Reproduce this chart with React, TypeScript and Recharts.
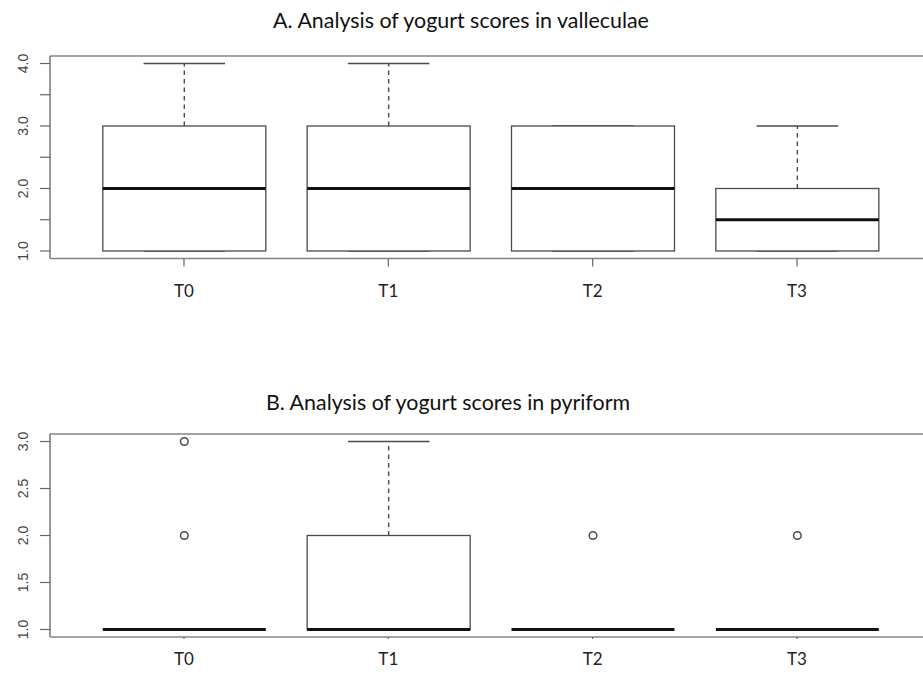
import React from "react";
import { ComposedChart, Bar, XAxis, YAxis, ReferenceLine } from "recharts";

const categories = ["T0", "T1", "T2", "T3"];

// A. valleculae
const vallMin = [1, 1, 1, 1];
const vallQ1 = [1, 1, 1, 1];
const vallMedian = [2, 2, 2, 1.5];
const vallQ3 = [3, 3, 3, 2];
const vallMax = [4, 4, 3, 3];
const vallOutliers: number[][] = [[], [], [], []];
const vallTicks = [1, 1.5, 2, 2.5, 3, 3.5, 4];

// B. pyriform
const pyrMin = [1, 1, 1, 1];
const pyrQ1 = [1, 1, 1, 1];
const pyrMedian = [1, 1, 1, 1];
const pyrQ3 = [1, 2, 1, 1];
const pyrMax = [1, 3, 1, 1];
const pyrOutliers: number[][] = [[2, 3], [], [2], [2]];
const pyrTicks = [1, 1.5, 2, 2.5, 3];

const LINE = "#4a4a4a";
const FRAME = "#858585";

function buildRows(min: number[], q1: number[], med: number[], q3: number[], max: number[], out: number[][]) {
    return categories.map((name, i) => {
        const all = [min[i], max[i], ...out[i]];
        return {
            name,
            min: min[i],
            q1: q1[i],
            median: med[i],
            q3: q3[i],
            max: max[i],
            outliers: out[i],
            range: [Math.min(...all), Math.max(...all)],
        };
    });
}

function BoxShape(props: any) {
    const { x, y, width, height, payload } = props;
    const [lo, hi] = payload.range;
    const top = Math.min(y, y + height);
    const bottom = Math.max(y, y + height);
    const py = (v: number) => bottom - ((v - lo) / (hi - lo)) * (bottom - top);
    const cx = x + width / 2;
    const cap = width / 4;
    return (
        <g>
            <line x1={cx} x2={cx} y1={py(payload.q3)} y2={py(payload.max)} stroke={LINE} strokeWidth={1.4} strokeDasharray="4.5 4" />
            <line x1={cx} x2={cx} y1={py(payload.q1)} y2={py(payload.min)} stroke={LINE} strokeWidth={1.4} strokeDasharray="4.5 4" />
            <line x1={cx - cap} x2={cx + cap} y1={py(payload.max)} y2={py(payload.max)} stroke={LINE} strokeWidth={1.4} />
            <line x1={cx - cap} x2={cx + cap} y1={py(payload.min)} y2={py(payload.min)} stroke={LINE} strokeWidth={1.4} />
            <rect x={x} y={py(payload.q3)} width={width} height={py(payload.q1) - py(payload.q3)}
                fill="#fff" stroke={LINE} strokeWidth={1.3} />
            <line x1={x} x2={x + width} y1={py(payload.median)} y2={py(payload.median)} stroke="#111" strokeWidth={3.2} />
            {payload.outliers.map((v: number, i: number) => (
                <circle key={i} cx={cx} cy={py(v)} r={3.8} fill="none" stroke={LINE} strokeWidth={1.5} />
            ))}
        </g>
    );
}

function YTick(props: any) {
    const { x, y, payload, labelAll } = props;
    const v = payload.value;
    const label = labelAll || Number.isInteger(v) ? v.toFixed(1) : "";
    const tx = x - 17;
    return (
        <text x={tx} y={y} transform={`rotate(-90, ${tx}, ${y})`} textAnchor="middle" dominantBaseline="central"
            fill="#444" fontSize={14} fontFamily="Liberation Sans, Arial, sans-serif">
            {label}
        </text>
    );
}

function XTick(props: any) {
    const { x, y, payload, dy } = props;
    return (
        <text x={x} y={y} dy={dy} textAnchor="middle" fill="#222" fontSize={17} fontFamily="Lato, sans-serif">
            {payload.value}
        </text>
    );
}

interface PanelProps {
    rows: any[];
    ticks: number[];
    top: number;
    height: number;
    marginTop: number;
    marginBottom: number;
    tickSize: number;
    labelDy: number;
    labelAll: boolean;
}

function BoxPanel({ rows, ticks, top, height, marginTop, marginBottom, tickSize, labelDy, labelAll }: PanelProps) {
    const lo = Math.min(...rows.map(r => r.range[0]));
    const hi = Math.max(...rows.map(r => r.range[1]));
    const pad = (hi - lo) * 0.04;
    return (
        <div style={{ position: "absolute", left: 0, top }}>
            <ComposedChart width={940} height={height} data={rows}
                margin={{ top: marginTop, right: 9, bottom: marginBottom, left: 0 }}>
                <XAxis dataKey="name" interval={0} padding={{ left: 31.8, right: 31.8 }} height={30}
                    tickSize={tickSize} tickMargin={0}
                    axisLine={{ stroke: FRAME, strokeWidth: 1.7 }} tickLine={{ stroke: "#666", strokeWidth: 1.2 }}
                    tick={<XTick dy={labelDy} />} />
                <YAxis type="number" domain={[lo - pad, hi + pad]} allowDataOverflow ticks={ticks} interval={0}
                    width={50} tickSize={10} tickMargin={0}
                    axisLine={{ stroke: FRAME, strokeWidth: 1.7 }} tickLine={{ stroke: "#666", strokeWidth: 1.2 }}
                    tick={<YTick labelAll={labelAll} />} />
                <ReferenceLine y={hi + pad} stroke={FRAME} strokeWidth={1.7} ifOverflow="visible" />
                <Bar dataKey="range" barSize={163} shape={<BoxShape />} isAnimationActive={false} />
            </ComposedChart>
        </div>
    );
}

const vallRows = buildRows(vallMin, vallQ1, vallMedian, vallQ3, vallMax, vallOutliers);
const pyrRows = buildRows(pyrMin, pyrQ1, pyrMedian, pyrQ3, pyrMax, pyrOutliers);

const titleStyle: React.CSSProperties = {
    position: "absolute", width: 600, textAlign: "center", fontFamily: "Lato, sans-serif",
    fontSize: 21.4, color: "#111", whiteSpace: "nowrap", lineHeight: "26px",
};

export default function App() {
    return (
        <div style={{ position: "fixed", left: 0, top: 0, width: 923, height: 678, overflow: "hidden", background: "#fff" }}>
            <div style={{ ...titleStyle, left: 161, top: 7 }}>A. Analysis of yogurt scores in valleculae</div>
            <BoxPanel rows={vallRows} ticks={vallTicks} top={0} height={300} marginTop={56} marginBottom={11.5}
                tickSize={8} labelDy={30} labelAll={false} />
            <div style={{ ...titleStyle, left: 148, top: 389 }}>B. Analysis of yogurt scores in pyriform</div>
            <BoxPanel rows={pyrRows} ticks={pyrTicks} top={380} height={298} marginTop={54} marginBottom={11}
                tickSize={2} labelDy={26} labelAll={true} />
        </div>
    );
}
